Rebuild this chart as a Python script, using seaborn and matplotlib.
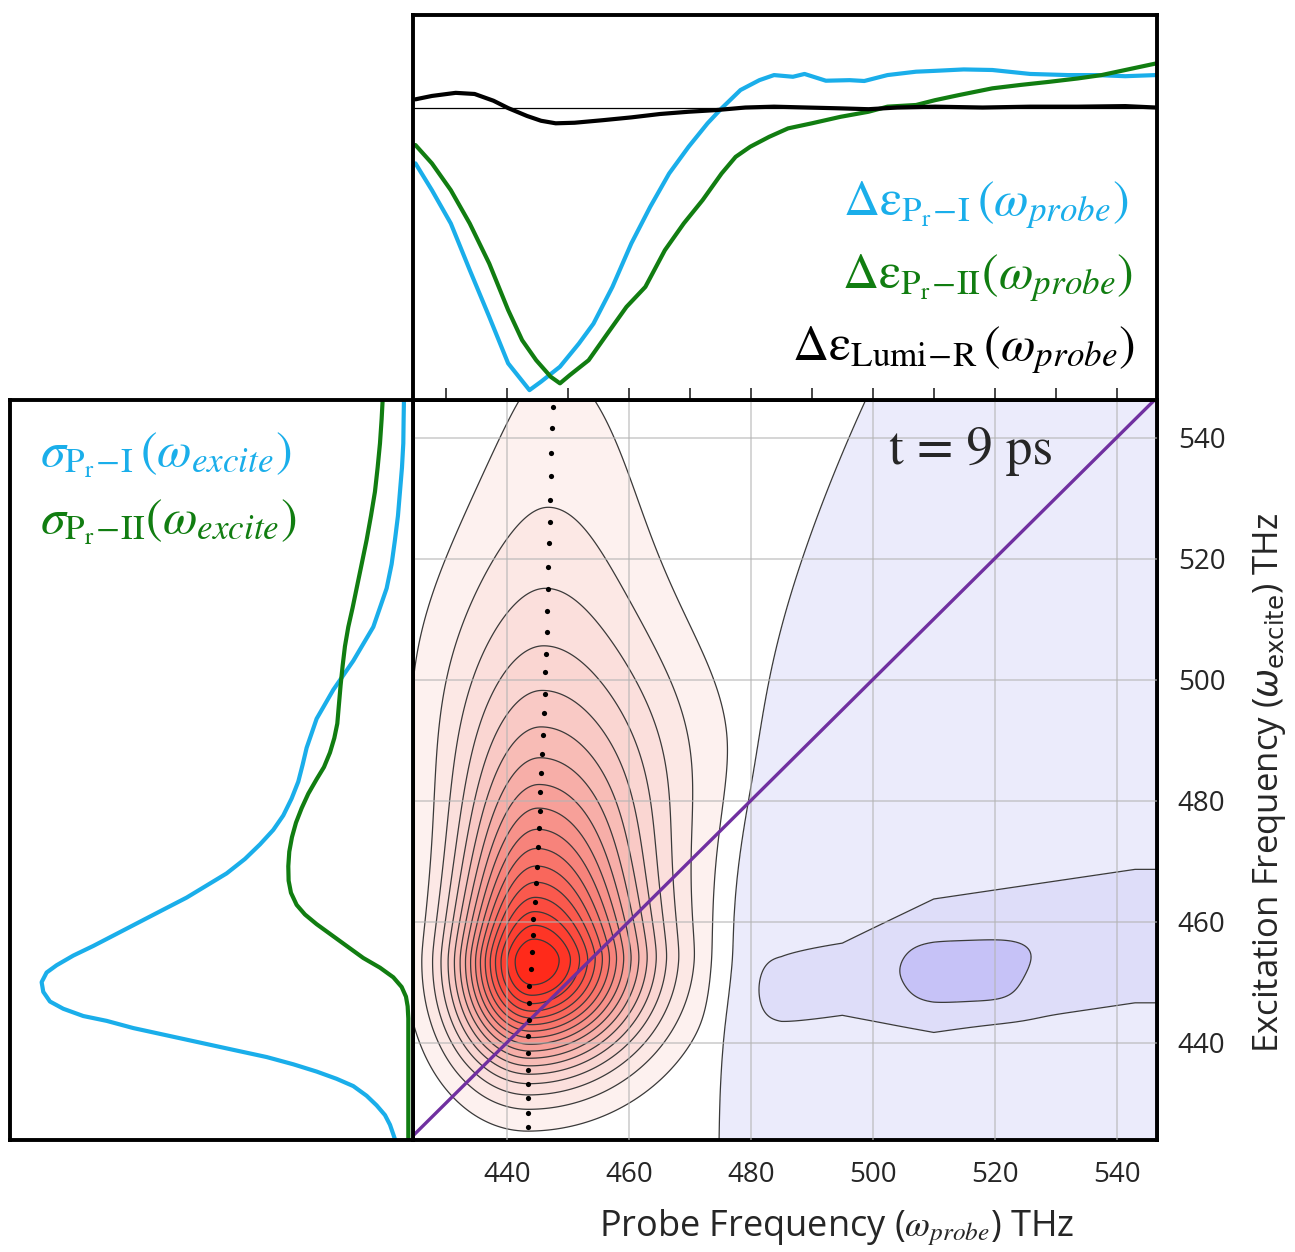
import numpy as np
import matplotlib
matplotlib.use("Agg")
import matplotlib.pyplot as plt
import seaborn as sns
from matplotlib.colors import LinearSegmentedColormap

sns.set_style("white")
plt.rcParams["font.family"] = ["Open Sans", "DejaVu Sans"]
plt.rcParams["mathtext.fontset"] = "stix"

BLUE = "#1AAEEA"
GREEN = "#117D11"
PURPLE = "#7030A0"

# ---- top panel: transient spectra vs probe frequency (THz, arb. units) ----
probe_pr1 = [425.0, 427.7, 430.8, 433.9, 437.1, 440.2, 443.7, 445.6, 448.7, 451.8, 454.2, 457.3,
             460.4, 463.5, 466.6, 469.8, 472.9, 475.2, 478.3, 481.4, 483.8, 486.9, 488.8, 492.3,
             496.2, 498.6, 502.4, 507.1, 510.2, 514.9, 519.6, 525.8, 532.0, 536.7, 541.4, 546.4]
de_pr1 = [-0.196, -0.291, -0.409, -0.574, -0.740, -0.905, -1.0, -0.970, -0.917, -0.835, -0.764, -0.634,
          -0.480, -0.350, -0.232, -0.137, -0.054, -0.001, 0.064, 0.099, 0.117, 0.111, 0.121, 0.097,
          0.099, 0.096, 0.117, 0.129, 0.132, 0.137, 0.135, 0.121, 0.117, 0.117, 0.113, 0.117]

probe_pr2 = [425.0, 427.7, 430.8, 433.9, 437.1, 440.2, 442.5, 444.8, 447.2, 448.7, 450.3, 453.4,
             456.5, 459.6, 462.7, 465.9, 469.0, 472.1, 475.2, 477.5, 479.9, 483.0, 486.1, 490.0,
             494.7, 499.3, 502.4, 507.1, 510.2, 514.1, 519.6, 524.2, 528.9, 533.6, 537.5, 541.4, 546.4]
de_pr2 = [-0.131, -0.196, -0.291, -0.409, -0.551, -0.716, -0.823, -0.894, -0.953, -0.976, -0.947, -0.894,
          -0.799, -0.705, -0.634, -0.504, -0.409, -0.326, -0.232, -0.173, -0.137, -0.102, -0.072, -0.054,
          -0.031, -0.013, 0.005, 0.011, 0.028, 0.046, 0.070, 0.082, 0.093, 0.105, 0.117, 0.135, 0.158]

probe_lumi = [425.0, 427.7, 431.6, 434.7, 437.8, 440.2, 443.3, 445.6, 448.0, 451.1, 455.7, 460.4,
              465.1, 469.8, 474.4, 479.1, 483.8, 489.2, 494.7, 499.3, 504.0, 510.2, 518.0, 525.8,
              533.6, 541.4, 546.4]
de_lumi = [0.031, 0.043, 0.054, 0.050, 0.026, 0.000, -0.028, -0.045, -0.054, -0.052, -0.043, -0.033,
           -0.021, -0.013, -0.007, 0.002, 0.005, 0.002, -0.001, -0.004, 0.002, 0.005, 0.002, 0.005,
           0.005, 0.007, 0.002]

# ---- left panel: absorption vs excitation frequency ----
excite_pr1 = [546.23, 543.04, 539.04, 535.05, 531.06, 527.06, 523.07, 519.07, 515.08, 511.89, 508.69,
              505.90, 503.10, 500.70, 498.31, 495.91, 493.52, 491.12, 488.72, 485.93, 483.13, 480.34,
              477.54, 475.15, 472.75, 470.35, 467.96, 465.96, 463.96, 461.97, 459.97, 457.97, 455.97,
              454.38, 452.78, 451.58, 449.99, 448.39, 446.79, 445.59, 444.39, 443.59, 442.40, 441.20,
              440.00, 438.80, 437.61, 436.41, 435.21, 434.01, 432.81, 431.21, 429.62, 428.02, 426.42,
              424.83, 424.03]
sigma_pr1 = [0.0137, 0.0146, 0.0155, 0.0191, 0.0246, 0.0301, 0.0383, 0.0474, 0.0610, 0.0792, 0.0975,
             0.1248, 0.1521, 0.1794, 0.2067, 0.2295, 0.2523, 0.2659, 0.2796, 0.2905, 0.3024, 0.3206,
             0.3434, 0.3707, 0.4071, 0.4481, 0.4982, 0.5528, 0.6075, 0.6712, 0.7350, 0.7987, 0.8625,
             0.9171, 0.9627, 0.9900, 1.0036, 0.9991, 0.9809, 0.9445, 0.8898, 0.8260, 0.7532, 0.6621,
             0.5710, 0.4800, 0.3889, 0.3160, 0.2523, 0.1976, 0.1521, 0.1157, 0.0883, 0.0656, 0.0519,
             0.0428, 0.0383]

excite_pr2 = [546.23, 543.04, 539.04, 535.05, 531.06, 527.06, 523.07, 519.07, 515.08, 511.89, 508.69,
              505.50, 502.30, 499.11, 495.91, 492.72, 490.32, 487.93, 485.53, 483.53, 481.14, 478.74,
              476.34, 473.95, 471.55, 469.15, 466.76, 464.76, 462.76, 461.17, 459.57, 457.97, 455.97,
              453.98, 452.38, 450.79, 449.19, 447.59, 445.99, 443.99, 424.03]
sigma_pr2 = [0.0719, 0.0747, 0.0792, 0.0856, 0.0929, 0.1038, 0.1157, 0.1293, 0.1430, 0.1539, 0.1658,
             0.1749, 0.1812, 0.1867, 0.1913, 0.1958, 0.2040, 0.2158, 0.2322, 0.2523, 0.2750, 0.2932,
             0.3087, 0.3197, 0.3270, 0.3297, 0.3288, 0.3224, 0.3069, 0.2842, 0.2523, 0.2158, 0.1703,
             0.1248, 0.0792, 0.0428, 0.0200, 0.0082, 0.0036, 0.0018, 0.0018]

# ---- peak probe frequency for each excitation (dotted ridge) ----
dot_excite = [545.1, 541.5, 537.5, 533.6, 529.6, 526.1, 522.5, 518.6, 515.0, 511.4, 507.9, 504.3, 501.2,
              497.6, 494.4, 490.9, 487.7, 484.5, 481.4, 478.2, 475.5, 472.3, 469.1, 466.4, 463.2, 460.4,
              457.7, 454.9, 452.1, 449.4, 446.6, 443.8, 441.1, 438.3, 435.5, 433.1, 430.8, 428.4, 426.0]
dot_probe = [447.5, 447.4, 447.3, 447.2, 447.1, 447.0, 446.9, 446.8, 446.7, 446.6, 446.5, 446.4, 446.3,
             446.2, 446.0, 445.9, 445.8, 445.6, 445.5, 445.4, 445.3, 445.1, 445.0, 444.8, 444.6, 444.3,
             444.2, 444.1, 443.9, 443.7, 443.7, 443.6, 443.5, 443.5, 443.5, 443.4, 443.4, 443.4, 443.4]

# ---- 2D map model parameters ----
peak_probe, peak_excite, ridge_slope = 444.3, 453.5, 0.033
sigma_left, sigma_right, sigma_down = 8.6, 12.5, 11.7
tail_up, core_up = 33.0, 2.5
bleach_depth, edge_lo, edge_rise = 0.095, 474.5, 24.0
band_depth, band_y0, band_y1 = 0.06, 449.0, 457.6
blob_depth, blob_x, blob_y = 0.05, 515.3, 451.2

xlim = (424.6, 546.6)
ylim = (423.9, 546.2)

gx = np.linspace(423, 548, 501)
gy = np.linspace(423, 548, 501)
X, Y = np.meshgrid(gx, gy)

# positive (red) feature
dx = X - (peak_probe + ridge_slope * (Y - peak_excite))
dy = Y - peak_excite
s_r = sigma_right + 3.6 * np.exp(-((Y - 495) / 22) ** 2)
s_l = sigma_left + 3.8 * np.exp(-((Y - 510) / 30) ** 2)
qx = 0.5 * np.where(dx > 0, dx / s_r, dx / s_l) ** 2
qy = np.where(dy > 0, (np.sqrt(core_up ** 2 + dy ** 2) - core_up) / tail_up,
              0.5 * (dy / sigma_down) ** 2)
red = np.exp(-(qx + qy))

# negative (blue) feature
edge = edge_lo + edge_rise * np.clip((Y - 440) / 106, 0, 1) ** 2
plateau = bleach_depth / (1 + np.exp(-(X - edge) / 0.7))
t = np.clip((X - 485) / 58, 0, 1)
band_c = band_y0 + (band_y1 - band_y0) * t
band_w = 3.7 + 3.1 * np.clip((X - 495) / 15, 0, 1)
band = band_depth * np.exp(-0.5 * ((Y - band_c) / band_w) ** 2) / (1 + np.exp(-(X - 481.5)))
blob = blob_depth * np.exp(-(((X - blob_x) / 9.9) ** 4 + ((Y - blob_y) / 5.7) ** 4))
Z = red - plateau - band - blob

step = 1 / 18
red_levels = list(step * np.arange(1, 18))
blue_levels = [-3 * step, -2 * step, -step]
fill_levels = [-1.0] + blue_levels + red_levels + [1.5]
red_cmap = LinearSegmentedColormap.from_list(
    "reds", ["#FDF1EF", "#FAD4D0", "#F7A9A3", "#F77B72", "#FB4E42", "#FF2A1A"])
fill_colors = ["#C6C2F7", "#DEDDF9", "#EBEBFB", "#FFFFFF"] + \
    [red_cmap(i / 16) for i in range(17)]

# ---- figure ----
fig = plt.figure(figsize=(12.95, 12.52), dpi=100)
ax = fig.add_axes([413 / 1295, 112 / 1252, 744 / 1295, 740 / 1252])
ax_top = fig.add_axes([413 / 1295, 852 / 1252, 744 / 1295, 385 / 1252])
ax_left = fig.add_axes([10 / 1295, 112 / 1252, 403 / 1295, 740 / 1252])

# main map
ax.contourf(X, Y, Z, levels=fill_levels, colors=fill_colors)
ax.contour(X, Y, Z, levels=blue_levels + red_levels, colors="#3a3a3a",
           linewidths=0.9, linestyles="solid")
ax.plot([xlim[0], xlim[1] + 5], [xlim[0], xlim[1] + 5], color=PURPLE, lw=2.4, zorder=4)
sns.scatterplot(x=dot_probe, y=dot_excite, ax=ax, color="black", s=14, linewidth=0, zorder=5)
ax.set_xlim(*xlim)
ax.set_ylim(*ylim)
ax.set_xticks(np.arange(440, 541, 20))
ax.set_yticks(np.arange(440, 541, 20))
ax.set_xticks(np.arange(430, 541, 10), minor=True)
ax.set_yticks(np.arange(430, 541, 10), minor=True)
ax.set_axisbelow(False)
ax.grid(True, which="major", color="#b4b4b4", lw=1.3, alpha=0.6)
ax.tick_params(axis="x", which="both", top=True, bottom=False, direction="out",
               length=9, width=1.2, labelsize=20, pad=6)
ax.tick_params(axis="y", which="both", left=True, right=False, labelleft=False,
               labelright=True, direction="out", length=9, width=1.2, labelsize=20, pad=6)
# small inward ticks along the right edge
sec = ax.secondary_yaxis("right")
sec.set_yticks(np.arange(430, 541, 10))
sec.tick_params(direction="in", length=6, width=1.0, labelright=False)
sec.spines["right"].set_linewidth(2.8)
ax.text(0.75, 0.93, "t = 9 ps", transform=ax.transAxes, ha="center", va="center",
        fontsize=38, family="STIXGeneral")
for s in ax.spines.values():
    s.set_linewidth(2.8)
    s.set_color("black")
ax.set_xlabel("")
ax.set_ylabel("")

# top panel
ax_top.axhline(0, color="black", lw=0.9)
sns.lineplot(x=probe_pr1, y=de_pr1, ax=ax_top, color=BLUE, lw=3, estimator=None, sort=False)
sns.lineplot(x=probe_pr2, y=de_pr2, ax=ax_top, color=GREEN, lw=3, estimator=None, sort=False)
sns.lineplot(x=probe_lumi, y=de_lumi, ax=ax_top, color="black", lw=3, estimator=None, sort=False)
ax_top.set_xlim(*xlim)
ax_top.set_ylim(-1.035, 0.33)
ax_top.set_xticks(np.arange(430, 541, 10))
ax_top.set_yticks([])
ax_top.tick_params(axis="x", bottom=True, direction="in", length=9, width=1.2, labelbottom=False)
for s in ax_top.spines.values():
    s.set_linewidth(2.8)
    s.set_color("black")
ax_top.text(0.961, 0.506, r"$\Delta\mathrm{\varepsilon}_{\mathrm{P_r\!-\!I}}\,(\omega_{probe})$",
            transform=ax_top.transAxes, ha="right", va="center", fontsize=36, color=BLUE)
ax_top.text(0.968, 0.317, r"$\Delta\mathrm{\varepsilon}_{\mathrm{P_r\!-\!II}}(\omega_{probe})$",
            transform=ax_top.transAxes, ha="right", va="center", fontsize=36, color=GREEN)
ax_top.text(0.970, 0.130, r"$\Delta\mathrm{\varepsilon}_{\mathrm{Lumi\!-\!R}}\,(\omega_{probe})$",
            transform=ax_top.transAxes, ha="right", va="center", fontsize=36, color="black")

# left panel
sns.lineplot(x=sigma_pr1, y=excite_pr1, ax=ax_left, color=BLUE, lw=3, estimator=None, sort=False)
sns.lineplot(x=sigma_pr2, y=excite_pr2, ax=ax_left, color=GREEN, lw=3, estimator=None, sort=False)
ax_left.set_xlim(1.09, -0.011)
ax_left.set_ylim(*ylim)
ax_left.set_xticks([])
ax_left.set_yticks([])
for s in ax_left.spines.values():
    s.set_linewidth(2.8)
    s.set_color("black")
ax_left.text(0.074, 0.926, r"$\sigma_{\mathrm{P_r\!-\!I}}\,(\omega_{excite})$",
             transform=ax_left.transAxes, ha="left", va="center", fontsize=36, color=BLUE)
ax_left.text(0.074, 0.835, r"$\sigma_{\mathrm{P_r\!-\!II}}(\omega_{excite})$",
             transform=ax_left.transAxes, ha="left", va="center", fontsize=36, color=GREEN)

# axis titles
fig.text(837 / 1295, 1 - 1228 / 1252, r"Probe Frequency ($\omega_{probe}$) THz",
         ha="center", va="center", fontsize=26)
fig.text(1270 / 1295, 1 - 783 / 1252, r"Excitation Frequency ($\omega_{\mathrm{excite}}$) THz",
         ha="center", va="center", fontsize=25, rotation=90, math_fontfamily="dejavusans")

fig.savefig("out.png", dpi=100)
